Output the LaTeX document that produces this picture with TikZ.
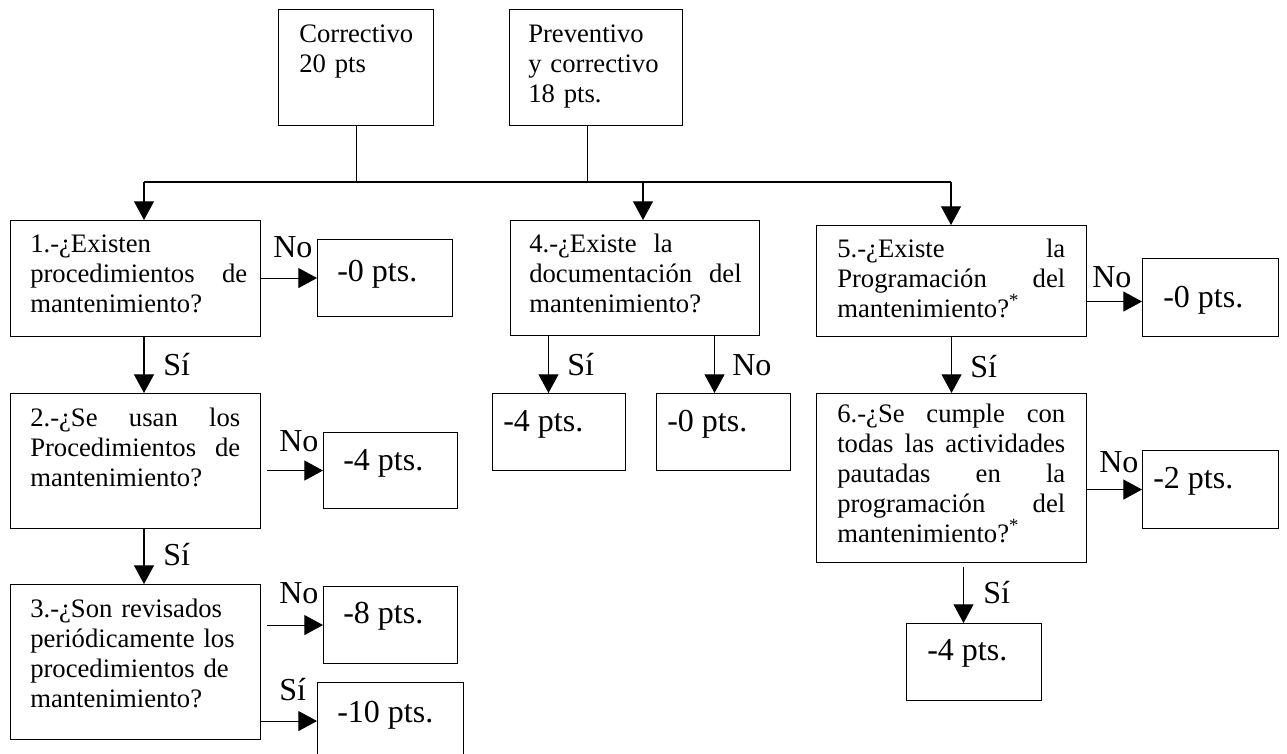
\documentclass[tikz,border=0pt]{standalone}
\usepackage{fontspec}
\setmainfont{Liberation Serif}
\usetikzlibrary{arrows.meta}

% one unit = one pixel of the 1287 x 753 canvas, y grows downwards
\tikzset{
  boxst/.style={draw=black, line width=0.8pt, inner sep=0pt, anchor=north west, rectangle},
  qtext/.style={anchor=base west, inner sep=0pt, align=left, font=\fontsize{20}{22.5}\selectfont},
  rtext/.style={anchor=base west, inner sep=0pt, font=\fontsize{24}{28}\selectfont},
  lbl/.style={anchor=base west, inner sep=0pt, font=\fontsize{24}{28}\selectfont},
  link/.style={line width=0.8pt},
  arr/.style={line width=0.8pt, -{Triangle[length=14pt,width=15pt]}},
}

\begin{document}
\begin{tikzpicture}[x=0.75pt, y=-0.75pt]
\useasboundingbox (0,0) rectangle (1287,753);

% ---- top category boxes
\node[boxst, minimum width=116.25pt, minimum height=87pt] (C) at (278,9) {};
\node[boxst, minimum width=129.75pt, minimum height=87pt] (P) at (509,9) {};
\node[qtext, text width=100pt, xshift=15.75pt, yshift=-25pt] (tC) at (C.north west) {Correctivo\\20 pts};
\node[qtext, text width=110pt, xshift=14.25pt, yshift=-25pt] (tP) at (P.north west) {Preventivo\\y correctivo\\18 pts.};

% ---- question boxes
\node[boxst, minimum width=187.5pt, minimum height=87pt]     (b1) at (10,220) {};
\node[boxst, minimum width=187.5pt, minimum height=101.25pt] (b2) at (10,393) {};
\node[boxst, minimum width=187.5pt, minimum height=116.25pt] (b3) at (10,584) {};
\node[boxst, minimum width=186.75pt, minimum height=86.25pt] (b4) at (510,220) {};
\node[boxst, minimum width=202.5pt, minimum height=83.25pt]  (b5) at (816,225) {};
\node[boxst, minimum width=202.5pt, minimum height=126.75pt] (b6) at (816,393) {};

\node[qtext, text width=162.75pt, xshift=15pt, yshift=-24.5pt] (t1) at (b1.north west)
  {1.-¿Existen\\procedimientos\hfill de\\mantenimiento?};
\node[qtext, text width=157.5pt, xshift=15pt, yshift=-25pt] (t2) at (b2.north west)
  {2.-¿Se\hfill usan\hfill los\\Procedimientos\hfill de\\mantenimiento?};
\node[qtext, text width=165pt, xshift=15pt, yshift=-25pt] (t3) at (b3.north west)
  {3.-¿Son revisados\\periódicamente los\\procedimientos de\\mantenimiento?};
\node[qtext, text width=165pt, xshift=14.25pt, yshift=-24.5pt] (t4) at (b4.north west)
  {4.-¿Existe\hspace{0.3em} la\\documentación\hspace{0.3em} del\\mantenimiento?};
\node[qtext, text width=171pt, xshift=15.75pt, yshift=-24pt] (t5) at (b5.north west)
  {5.-¿Existe\hfill la\\Programación\hfill del\\mantenimiento?\textsuperscript{*}};
\node[qtext, text width=171pt, xshift=15.75pt, yshift=-21.75pt] (t6) at (b6.north west)
  {6.-¿Se\hfill cumple\hfill con\\todas\hfill las\hfill actividades\\pautadas\hfill en\hfill la\\programación\hfill del\\mantenimiento?\textsuperscript{*}};

% ---- score boxes
\node[boxst, minimum width=101.25pt, minimum height=57.75pt] (R1) at (317,239) {};
\node[boxst, minimum width=100.5pt,  minimum height=57pt]    (R2) at (323,432) {};
\node[boxst, minimum width=100.5pt,  minimum height=57.75pt] (R3) at (323,586) {};
\node[boxst, minimum width=109.5pt,  minimum height=57.75pt] (R4) at (317,682) {};
\node[boxst, minimum width=99.75pt,  minimum height=57.75pt] (R5) at (492,393) {};
\node[boxst, minimum width=100.5pt,  minimum height=57.75pt] (R6) at (656,393) {};
\node[boxst, minimum width=102pt,    minimum height=58.5pt]  (R7) at (1142,258) {};
\node[boxst, minimum width=102pt,    minimum height=58.5pt]  (R8) at (1142,450) {};
\node[boxst, minimum width=101.25pt, minimum height=57.75pt] (R9) at (906,623) {};

\node[rtext, xshift=15pt,   yshift=-32pt]   (s1) at (R1.north west) {-0 pts.};
\node[rtext, xshift=15pt,   yshift=-28.5pt] (s2) at (R2.north west) {-4 pts.};
\node[rtext, xshift=15pt,   yshift=-28pt]   (s3) at (R3.north west) {-8 pts.};
\node[rtext, xshift=15pt,   yshift=-30pt]   (s4) at (R4.north west) {-10 pts.};
\node[rtext, xshift=8.25pt, yshift=-29pt]   (s5) at (R5.north west) {-4 pts.};
\node[rtext, xshift=8.25pt, yshift=-29pt]   (s6) at (R6.north west) {-0 pts.};
\node[rtext, xshift=15.75pt,yshift=-37pt]   (s7) at (R7.north west) {-0 pts.};
\node[rtext, xshift=8.25pt, yshift=-29pt]   (s8) at (R8.north west) {-2 pts.};
\node[rtext, xshift=15.75pt,yshift=-28pt]   (s9) at (R9.north west) {-4 pts.};

% ---- distribution bus from the category boxes
\coordinate (jl) at (144,182);
\coordinate (jm) at (643,182);
\coordinate (jr) at (951,182);
\draw[link] (C.south) -- (C.south |- jl);
\draw[link] ([xshift=-6.4pt]P.south) -- ([xshift=-6.4pt]P.south |- jl);
\draw[link] (jl) -- (jr);
\draw[arr] (jl) -- (jl |- b1.north);
\draw[arr] (jm) -- (jm |- b4.north);
\draw[arr] (jr) -- (jr |- b5.north);

% ---- left column
\draw[arr] (b1.south -| jl) -- (b2.north -| jl);
\draw[arr] (b2.south -| jl) -- (b3.north -| jl);
\draw[arr] (b1.east |- R1.west) -- (R1.west);
\draw[arr] ([xshift=4.5pt]b2.east |- R2.west) -- (R2.west);
\draw[arr] ([xshift=4.5pt]b3.east |- R3.west) -- (R3.west);
\draw[arr] (b3.east |- R4.west) -- (R4.west);

% ---- middle column
\draw[arr] ([xshift=-7.9pt]R5.north |- b4.south) -- ([xshift=-7.9pt]R5.north);
\draw[arr] ([xshift=-6.75pt]R6.north |- b4.south) -- ([xshift=-6.75pt]R6.north);

% ---- right column
\draw[arr] ([yshift=-3pt]b5.east |- R7.west) -- ([yshift=-3pt]R7.west);
\draw[arr] (b5.south) -- (b6.north);
\draw[arr] (b6.east |- R8.west) -- (R8.west);
\draw[arr] ([xshift=-7.9pt,yshift=-3pt]R9.north |- b6.south) -- ([xshift=-7.9pt]R9.north);

% ---- branch labels
\node[lbl] (l1)  at (273,257) {No};
\node[lbl] (l2)  at (163,375) {Sí};
\node[lbl] (l3)  at (279,451) {No};
\node[lbl] (l4)  at (163,565) {Sí};
\node[lbl] (l5)  at (279,603) {No};
\node[lbl] (l6)  at (279,700) {Sí};
\node[lbl] (l7)  at (567,375) {Sí};
\node[lbl] (l8)  at (732,375) {No};
\node[lbl] (l9)  at (1092,287) {No};
\node[lbl] (l10) at (970,377) {Sí};
\node[lbl] (l11) at (1099,472) {No};
\node[lbl] (l12) at (983,603) {Sí};
\end{tikzpicture}
\end{document}
